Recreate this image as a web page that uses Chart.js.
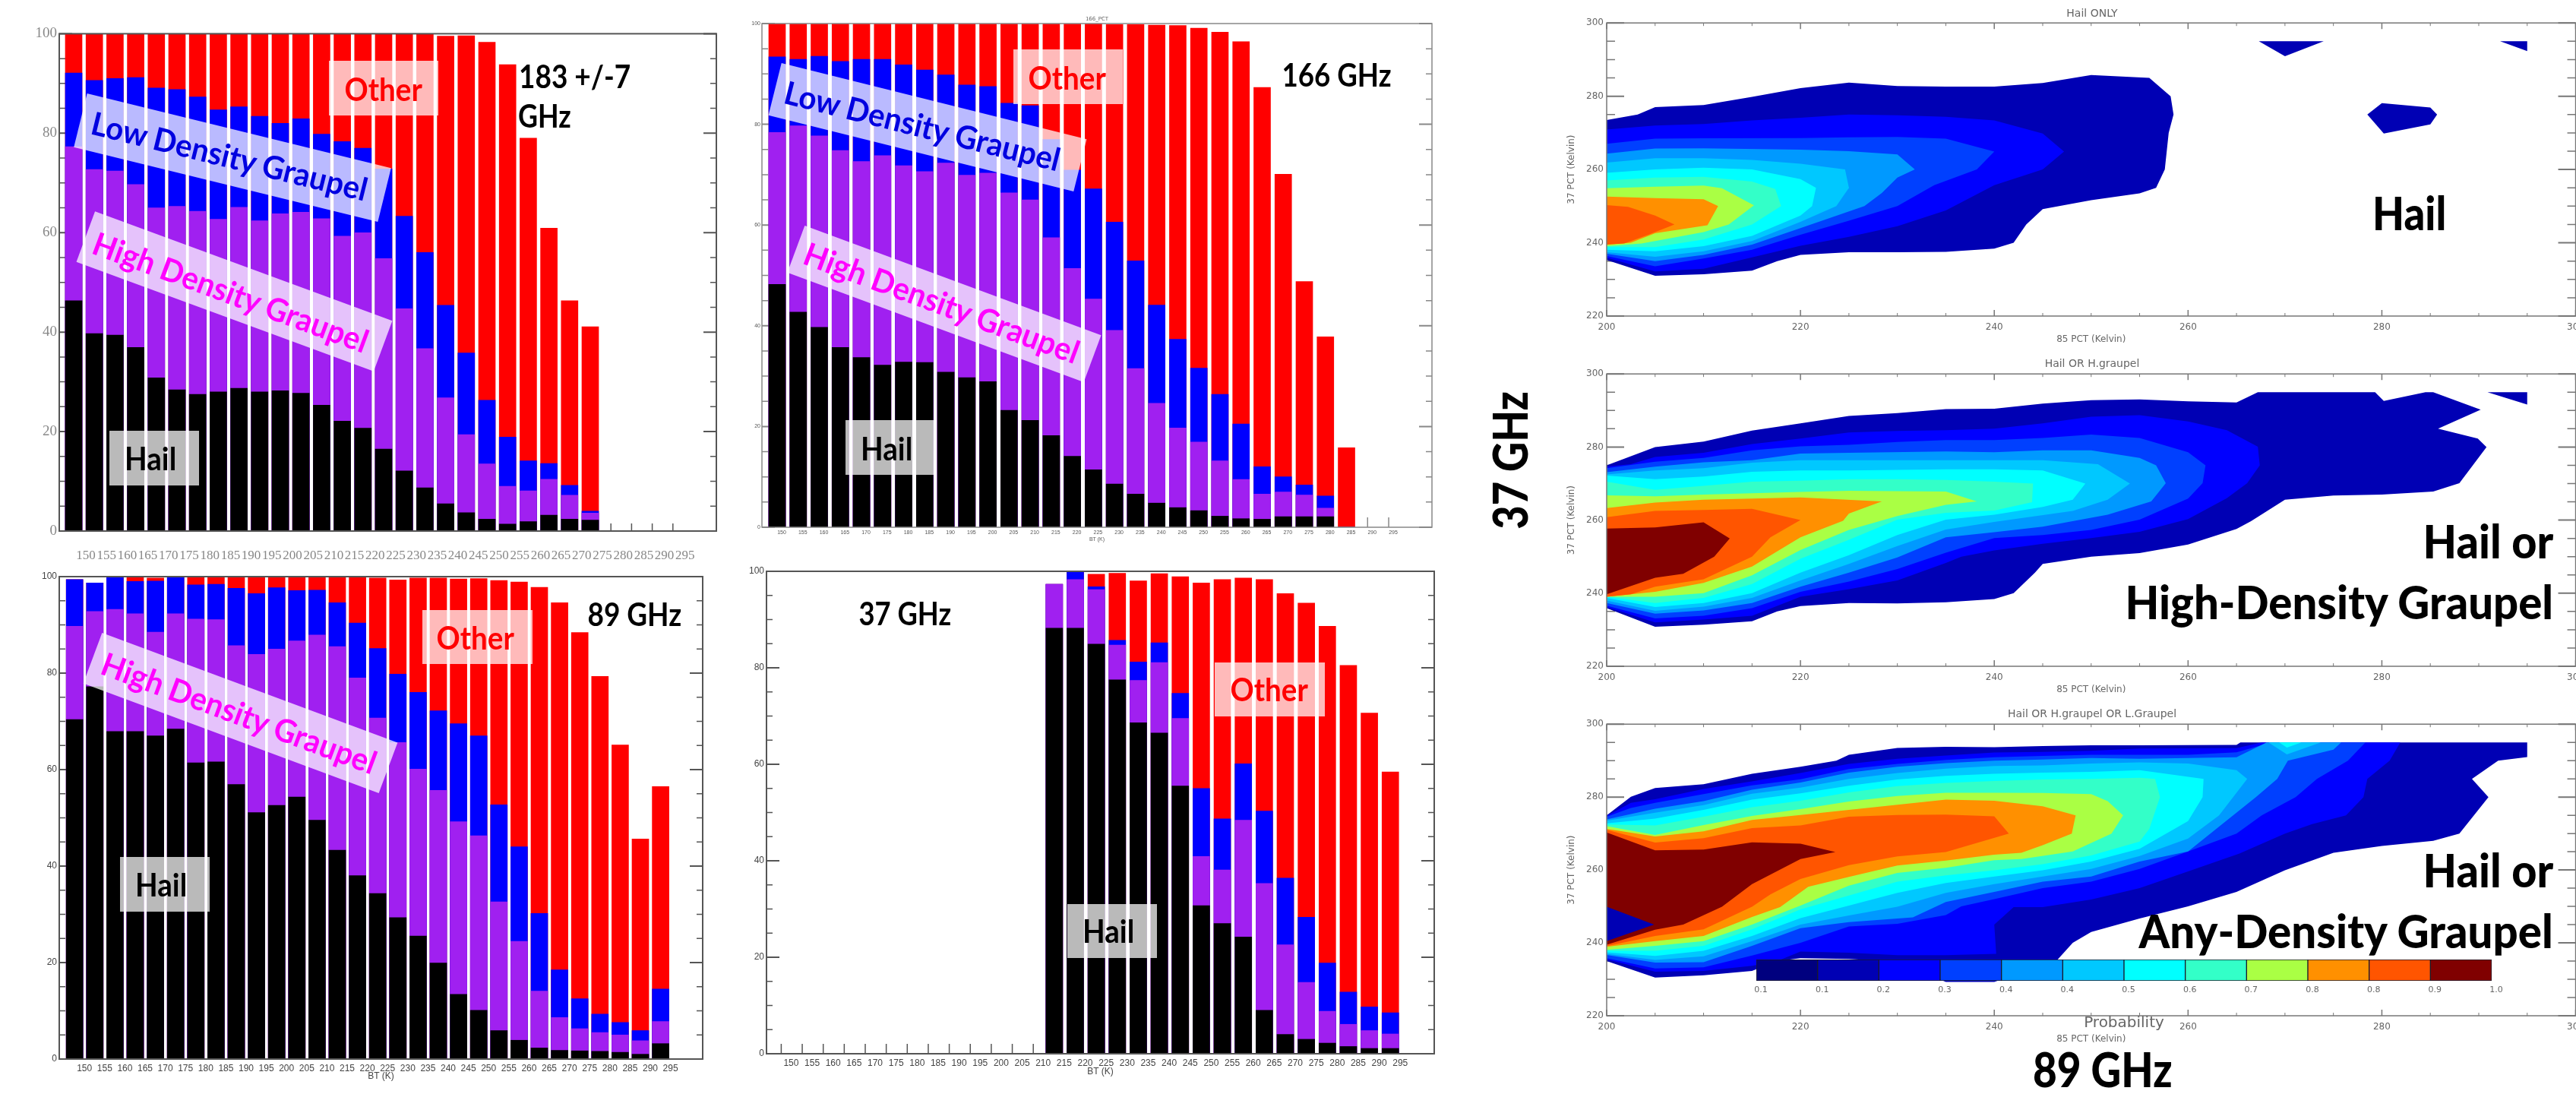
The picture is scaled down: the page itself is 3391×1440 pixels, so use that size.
<!DOCTYPE html>
<html>
<head>
<meta charset="utf-8">
<title>Hydrometeor probability vs brightness temperature</title>
<script src="https://cdn.jsdelivr.net/npm/chart.js@4"></script>
<style>
  html, body { margin: 0; padding: 0; background: #fff; width: 3391px; height: 1440px; overflow: hidden; }
  #page { position: relative; width: 3391px; height: 1440px; overflow: hidden; }
  canvas { position: absolute; }
  .box, .txt { position: absolute; transform-origin: center; }
  .txt { font-family: Lato, sans-serif; font-weight: 700; line-height: 1; white-space: nowrap; }
  .thin { position: absolute; font-family: "DejaVu Sans", sans-serif; color: #666; white-space: nowrap; transform: translate(-50%, -50%); }
</style>
</head>
<body>
<div id="page"></div>
<script>
// bins along the x axis of the four bar panels
const categories = [150, 155, 160, 165, 170, 175, 180, 185, 190, 195, 200, 205, 210, 215, 220, 225, 230, 235, 240, 245, 250, 255, 260, 265, 270, 275, 280, 285, 290, 295];

// bar series are the running totals: hail, then + high density, + low density, + other
const hail183 = [46.3, 39.7, 39.4, 36.9, 30.8, 28.4, 27.5, 28, 28.7, 28, 28.2, 27.7, 25.3, 22.1, 20.7, 16.5, 12.1, 8.7, 5.5, 3.7, 2.4, 1.4, 1.9, 3.2, 2.4, 2.2];
const high183 = [77.3, 72.7, 72.4, 69.7, 65, 65.3, 64.3, 62.7, 65.1, 62.4, 63.8, 64.1, 62.8, 59.3, 60, 54.8, 44.7, 36.7, 26.8, 19.4, 13.5, 9, 8.1, 10.4, 7.2, 3.6];
const low183 = [92.1, 90.6, 91, 91.2, 89.1, 88.8, 87.3, 84.7, 85.3, 83.4, 82, 82.9, 79.8, 78.3, 77, 72.8, 63.3, 56, 45.4, 35.8, 26.3, 18.9, 14.1, 13.6, 9.2, 4];
const total183 = [100, 100, 100, 100, 100, 100, 100, 100, 100, 100, 100, 100, 100, 100, 100, 100, 100, 100, 99.5, 99.6, 98.3, 93.8, 79, 60.9, 46.3, 41.1];

const hail166 = [48.2, 42.7, 39.7, 35.7, 33.7, 32.2, 32.8, 32.7, 30.8, 29.7, 28.9, 23.2, 21.2, 18.2, 14.1, 11.4, 8.6, 6.6, 4.8, 3.9, 3.3, 2.2, 1.7, 1.6, 2.1, 2.1, 2.1, 0];
const high166 = [78.4, 79.7, 77.7, 74.8, 72.6, 73.8, 71.8, 70.6, 72.3, 69.9, 70.3, 66.4, 65, 57.5, 51.4, 45.3, 39.1, 31.5, 24.6, 19.7, 16.9, 13.2, 9.5, 6.6, 7, 6.4, 3.8, 0];
const low166 = [93.4, 92.9, 93.5, 92.5, 92.9, 92.9, 91.8, 90.8, 89.8, 87.8, 87.5, 84.2, 83.7, 77, 70.9, 67.2, 60.6, 52.9, 44.1, 37.3, 31.6, 26.4, 20.5, 12, 10, 8.4, 6.2, 0];
const total166 = [100, 100, 100, 100, 100, 100, 100, 100, 100, 100, 100, 100, 100, 100, 100, 100, 99.8, 99.8, 99.7, 99.6, 99.1, 98.3, 96.4, 87.3, 70.1, 48.8, 37.8, 15.8];

const hail89 = [70.4, 77.2, 67.9, 67.9, 67, 68.4, 61.4, 61.6, 56.9, 51.1, 52.6, 54.3, 49.5, 43.3, 38, 34.3, 29.3, 25.5, 19.9, 13.4, 10.1, 5.9, 3.9, 2.3, 1.8, 1.7, 1.6, 1.4, 1, 3.2];
const high89 = [89.7, 92.8, 93.2, 92.3, 88.5, 92.3, 91.2, 91.1, 85.7, 83.9, 85, 86.7, 87.9, 85.5, 79, 70.7, 65.6, 60.1, 55.7, 49.2, 46.3, 32.6, 24.4, 14.1, 8.6, 6.3, 5.5, 5, 3.8, 7.8];
const low89 = [99.4, 98.7, 100, 99, 99.1, 100, 98.3, 98.4, 97.6, 96.5, 97.7, 97.1, 97.2, 94.6, 90.4, 85.1, 79.8, 76, 72.2, 69.5, 67, 52.7, 44, 30.2, 18.5, 12.5, 9.3, 7.6, 5.9, 14.5];
const total89 = [99.4, 98.7, 100, 100, 99.7, 100, 100, 100, 100, 100, 100, 100, 100, 100, 100, 99.7, 99.3, 99.7, 99.7, 99.5, 99.6, 99.2, 98.9, 97.8, 94.6, 88.4, 79.3, 65.1, 45.6, 56.5];

const hail37 = [null, null, null, null, null, null, null, null, null, null, null, null, null, 88.2, 88.2, 84.9, 77.5, 68.6, 66.5, 55.5, 30.7, 27, 24.2, 9, 4, 3, 2.2, 1.5, 1.1, 1.1];
const high37 = [null, null, null, null, null, null, null, null, null, null, null, null, null, 97.3, 98.3, 96.2, 84.7, 77.4, 81.1, 69.5, 40.9, 38.1, 48.4, 35.3, 22.6, 14.8, 8.8, 6.1, 4.8, 4.1];
const low37 = [null, null, null, null, null, null, null, null, null, null, null, null, null, 97.3, 100, 96.8, 85.7, 81.2, 85.2, 74.7, 55, 48.7, 60.1, 50.3, 36.4, 28.3, 18.8, 12.8, 9.7, 8.5];
const total37 = [null, null, null, null, null, null, null, null, null, null, null, null, null, 97.3, 100, 99.4, 99.6, 98, 99.5, 98.9, 97.6, 98.3, 98.6, 98.3, 95.4, 93.4, 88.6, 80.5, 70.6, 58.4];

// contour colours, one per probability band
const levelColors = ['#00007f', '#0000b4', '#0000ff', '#0040ff', '#0099ff', '#00c8ff', '#00ffff', '#33ffc8', '#aaff44', '#ff9000', '#ff5500', '#800000'];
const colorbarTicks = ['0.1', '0.1', '0.2', '0.3', '0.4', '0.4', '0.5', '0.6', '0.7', '0.8', '0.8', '0.9', '1.0'];

// contour outlines in (85 PCT, 37 PCT) kelvin: [colour band, outline]
const hailRings = [
  [1, [[200,273.5],[203.2,275],[205,277],[210,277.6],[215,279.8],[220,282.2],[225,283.7],[230,282.8],[235,282.6],[240,282.6],[245,283.6],[250,285.8],[256,285],[258.2,280],[258.5,275],[258,270],[257.6,260],[256.7,255],[255,253.5],[250,251.6],[245,249.2],[243.3,245],[242,240],[240,238.4],[235,237.5],[230,237.4],[225,237.4],[220,236.7],[217.6,235],[215,232.4],[210,231.4],[205,231],[200,235.3]]],
  [1, [[267.3,295],[274,295],[270,290.9]]],
  [1, [[292.2,295],[295,295],[295,292.3]]],
  [1, [[280,278.1],[285,276.9],[285.7,275],[285,272.3],[280.2,269.8],[278.5,275]]],
  [2, [[200,270.9],[205,272],[210,272.4],[215,273.4],[220,274.1],[225,275],[230,274.8],[235,274.4],[240,273.4],[245,269.8],[247.2,264.9],[245,260],[240,255.7],[235,248.8],[230,244.5],[225,241.6],[220,239.2],[215,236],[210,232.9],[205,232.2],[200,235.9]]],
  [3, [[200,267],[205,268.4],[210,268.5],[220,268.6],[225,268.8],[230,268.9],[235,268.4],[240,264.9],[238.2,260],[233.8,255.7],[230,250],[225,246],[220,242.2],[215,238.1],[210,235.7],[205,233.6],[200,236.4]]],
  [4, [[200,264.3],[205,265.7],[210,265.8],[220,265.4],[225,265],[230,264.1],[231.8,260],[230,257.8],[228.4,253.6],[226.6,250],[220,244],[215,239.5],[210,236.7],[205,235],[200,237]]],
  [5, [[200,261.9],[205,263.1],[210,263.1],[215,262.6],[220,261.6],[224.6,260],[225,255],[223.7,250],[220,245.7],[215,240.5],[210,237.7],[205,236.2],[200,237.4]]],
  [6, [[200,259.1],[205,260],[210,260.5],[215,260],[220,257.4],[221.6,255],[221.2,250],[220,247.4],[215,241.9],[210,239.1],[205,237.7],[200,238.1]]],
  [7, [[200,257],[205,257.8],[210,258],[215,256.7],[217.4,254.7],[218,250],[215,245],[210,240.9],[205,238.8],[200,238.8]]],
  [8, [[200,254.9],[205,255.3],[210,255.6],[211.9,254.9],[215.2,250.2],[212.6,245],[210,242.9],[205,240.5],[203.6,239.8],[200,239.1]]],
  [9, [[200,252.6],[205,252.2],[210,251.9],[211.5,250],[210.4,244.8],[205,242.6],[202.5,240],[200,239.5]]],
  [10, [[200,250.3],[202.2,249.8],[205,247.4],[207,245],[204.3,242.2],[201.8,239.8],[200,239.5]]]
];

const highRings = [
  [1, [[200,275],[205,280],[210,281.5],[215,284.5],[220,286.5],[225,288.5],[230,289.3],[235,290.4],[240,290.5],[245,291.9],[250,292.8],[255,293],[260,292.5],[265,292.2],[267.2,295],[279.3,295],[280.2,292.6],[284.5,295],[285.3,295],[290.2,290.2],[285.8,285],[289.9,282.3],[290.8,280],[288,270.1],[285.3,267.8],[280,267],[275,266.7],[270,265.6],[266.5,259.7],[265,257.6],[260,253.3],[255,251],[250,250],[245,248],[244.2,245.6],[242,240],[240,238.4],[235,237.5],[230,237.2],[225,237.3],[220,236.5],[217.6,235],[215,232.3],[210,231.4],[205,230.8],[200,235.9]]],
  [1, [[290.9,295],[295,295],[295,291.6]]],
  [2, [[200,274.6],[202.5,275.3],[205,277.3],[210,278.4],[215,280.8],[220,282.3],[225,284],[230,284.4],[235,284.6],[240,285],[245,286.5],[250,288.3],[255,288.7],[260,287],[264,284.6],[267.2,280.1],[267.4,275],[266.1,270.1],[264,266],[260,260.3],[255,256.8],[250,255.1],[245,253.5],[240,251.7],[236.6,250],[235,248.3],[230,243.5],[225,241.1],[220,239],[215,233.8],[210,232.8],[205,232],[200,236.2]]],
  [3, [[200,274.2],[205,276],[210,277],[215,279.1],[220,280.2],[225,280.6],[230,281.4],[235,281.9],[240,281.9],[245,282.5],[250,283.4],[255,282.5],[260,278.6],[261.8,275],[261.5,270.1],[260,265.9],[255,260.1],[250,257.3],[245,255.9],[240,255.1],[235,251.1],[230,246.6],[225,243.2],[220,240.4],[215,235.9],[210,233.8],[205,233.1],[200,236.6]]],
  [4, [[200,273.1],[205,274.6],[210,275.8],[215,276.4],[220,278.2],[225,278.4],[235,278.8],[240,278.6],[245,279.1],[250,279.1],[255,277],[256.7,275],[257.7,270.1],[256.2,265.1],[251.7,261.5],[245,258.2],[240,256.7],[235,255.3],[230,249.8],[225,245.6],[220,241.8],[215,237.3],[210,235.3],[205,234.4],[200,237.3]]],
  [5, [[200,272.5],[205,273.6],[210,274.2],[215,275.7],[220,276.4],[225,276.4],[230,276.4],[235,276.4],[240,276.4],[245,276.4],[250.7,275.3],[254,270],[251.7,265.6],[248.1,262.5],[240,259.5],[235,257.4],[230,252.9],[225,248],[220,243.5],[215,238.7],[210,236.3],[205,235.2],[200,238]]],
  [6, [[200,272.2],[205,271.2],[210,271.9],[215,273.2],[220,273.6],[225,273.6],[235,273.9],[240,273.9],[245,273.6],[249.4,270],[248.1,265.6],[245,263.6],[240,261.5],[235,260.1],[230,255.9],[225,250.4],[220,245.6],[215,240],[210,237.3],[205,236.2],[200,238.7]]],
  [7, [[200,270.5],[205,268.3],[210,269.4],[215,270.5],[220,270.8],[225,271.2],[230,271.2],[235,271],[240,270.5],[244,270],[243.9,264.9],[240,262.6],[235,262],[230,260.1],[225,254.6],[220,249.4],[215,242.5],[210,238.7],[205,237.3],[200,239]]],
  [8, [[200,266.8],[205,266.5],[210,267],[220,267.7],[225,268],[235,267.8],[238.2,265.1],[235,264.2],[230,261.1],[225,257.3],[220,251.8],[215,244.9],[210,240],[205,239],[200,239]]],
  [9, [[200,263.3],[205,264.8],[210,265.6],[220,266.2],[228.4,265.1],[225,261.8],[224.4,259.8],[220,255.3],[215,247.3],[210,242.8],[205,240.4],[200,239]]],
  [10, [[200,260.8],[205,262.5],[210,262.8],[215,263.1],[220,260],[216.9,255.3],[215,250],[210,243.8],[205,241.8],[202.5,239.7],[200,239]]],
  [11, [[200,257.7],[205,258],[210,259.4],[212.7,255],[211.1,250],[207.9,245.3],[205,244.2],[200,239.7]]]
];

const anyRings = [
  [1, [[200,275],[202.5,280.1],[205,282.5],[210,283.5],[215,286.4],[220,288.3],[223.7,290],[225,291.6],[230,293.5],[235,293.8],[240,293.7],[245,294],[250,294.2],[255,294.2],[265,294.3],[265.4,295],[295,295],[295,291],[292,290],[289.3,285],[291,280],[288,270],[285.3,268],[280,266.6],[275,264.7],[270,259.9],[265,254],[260,250],[255,246.7],[250,243],[248.1,240],[246.4,235],[240,229.3],[235,229.3],[230,234.8],[225,235.6],[220,235.8],[217.6,235],[215,232.3],[210,231.1],[205,230.5],[200,235]]],
  [2, [[200,274.8],[202.5,278.4],[205,279.4],[210,282.2],[215,284.3],[220,286.6],[225,289.1],[230,290.5],[235,291.4],[240,292.2],[245,292.4],[250,292.7],[255,293.3],[265,293.4],[267.6,295],[281.9,295],[280.8,290],[278.5,285],[278.1,280],[276.3,275],[272.8,272.6],[270,270],[265.3,264.5],[260,259.6],[255,255],[250,251.9],[245,249.8],[242,249.8],[240,245],[240.2,237],[235,236.6],[230,236.6],[225,237.3],[220,237.6],[217.6,235],[215,233.7],[210,232.3],[205,232.1],[200,235.5]]],
  [3, [[200,274.6],[202.5,277],[205,278.4],[210,280.8],[215,283.2],[220,284.9],[225,287.7],[230,289.1],[235,290.2],[240,290.9],[245,291.3],[250,291.6],[255,291.6],[260,291.6],[265,292.3],[268.6,295],[278.3,295],[276.5,290],[273.3,285],[271.1,280],[267.6,275],[265,270],[260,265.1],[255,260.3],[250,256.8],[245,255],[240,252],[236.6,250],[235,247.6],[230,245.2],[225,244.5],[220,240],[215,236.5],[210,233.3],[205,233],[200,235.8]]],
  [4, [[200,273.9],[205,276.8],[210,278.9],[215,282],[220,284],[225,286.7],[230,288.3],[235,289.3],[240,290],[245,290.3],[250,290.7],[255,290.5],[260,290.7],[265,290.9],[268.1,295],[275.8,295],[275,293],[270.3,290],[269.2,285],[267,280],[262.3,270],[260,265.1],[255,262.3],[250,258.2],[245,256.8],[240,254],[235,251.2],[231.6,247],[225,245.7],[220,244],[215,239.2],[210,234.7],[205,234.6],[200,236.7]]],
  [5, [[268.3,295],[273.7,295],[270.2,291.7]]],
  [6, [[269.4,295],[271.7,295],[270.2,293.6]]],
  [5, [[200,273.5],[205,275.7],[210,277.8],[215,280.9],[220,282.6],[225,285],[230,286.6],[235,287.8],[240,288.5],[245,288.7],[250,289.2],[255,289.5],[260,289.2],[265,287.4],[266.1,285],[263.2,275],[260,268.6],[255,263.8],[250,260.3],[245,258.2],[240,256.1],[235,253.7],[230,249.9],[225,247.5],[220,245],[215,240.5],[210,236.3],[205,235.3],[200,237]]],
  [6, [[200,272.8],[205,274.1],[210,276.5],[215,279.3],[220,281],[225,283.1],[230,284.8],[235,285.8],[240,286.4],[245,286.7],[250,286.9],[255,287.4],[261.6,285],[261.5,280],[260,273.4],[255,265.8],[250,262.3],[245,259.9],[240,258.2],[235,256.4],[230,253.7],[225,250.2],[220,246.8],[215,241.9],[210,237.8],[205,236.4],[200,237.4]]],
  [7, [[200,272.5],[205,272.2],[210,274.6],[215,277.2],[220,279],[225,281.3],[230,283],[235,283.9],[240,284.4],[245,284.8],[250,285],[255,285.3],[256.6,285],[257.1,280],[256,271.3],[255,267.8],[250,264],[245,261.6],[240,259.9],[235,258.5],[230,256.8],[225,253],[220,249.2],[215,243.7],[210,239.2],[205,237.8],[200,237.8]]],
  [8, [[200,272],[205,269.6],[210,272.3],[215,274.8],[220,276.7],[225,278.8],[230,280.3],[235,281.2],[240,281.2],[245,281.1],[250,280.8],[251.7,278.9],[253.3,275],[252.1,270],[248.1,265.1],[242.8,263],[240,262.7],[235,260.6],[230,259.2],[225,255.7],[220,250.2],[215,245],[210,240.5],[205,239.2],[200,238.1]]],
  [9, [[200,271.3],[205,269.2],[210,270.6],[215,273.7],[220,275.1],[225,276.5],[230,277.9],[235,279.3],[240,279],[245,277.5],[248.4,275],[248,270],[245,266.8],[242.8,264.7],[240,264.2],[235,262.6],[230,261.2],[225,258.1],[220.8,255.4],[217.9,249.8],[215,247.1],[210,241.9],[205,240.5],[200,238.9]]],
  [10, [[200,271],[205,267.5],[210,268.7],[215,271.5],[220,272.2],[225,274.6],[230,275.1],[235,275.2],[240,274.7],[241.5,270],[235,264.9],[230,263.7],[225,261.3],[220,257.5],[216.9,253.3],[215,249.9],[210,243.7],[205,241.9],[200,239.1]]],
  [11, [[200,270.3],[205,265.4],[210,265.6],[215,267.6],[220,267.2],[223.6,264.9],[220,263],[215,256.1],[211.9,249.9],[207.9,245],[205,243.6],[200,239.5]]],
  [1, [[200,249.9],[204.9,245],[200,240.5]]]
];

const page = document.getElementById('page');

// inward tick marks and the frame round the plot, IDL style
const frameTicks = {
  id: 'frameTicks',
  beforeDatasetsDraw(chart, args, o) {
    const { ctx, chartArea: a, scales: { x, y } } = chart;
    ctx.save();
    ctx.strokeStyle = o.color;
    y.ticks.forEach(t => {
      const py = y.getPixelForValue(t.value);
      const major = t.value % 20 === 0;
      const len = major ? o.yMajor : o.yMinor;
      ctx.lineWidth = major ? 2 : 1.5;
      ctx.beginPath();
      ctx.moveTo(a.left, py); ctx.lineTo(a.left + len, py);
      ctx.moveTo(a.right, py); ctx.lineTo(a.right - len, py);
      ctx.stroke();
    });
    x.ticks.forEach(t => {
      const px = x.getPixelForValue(t.value);
      const major = o.xEvery ? t.value % o.xEvery === 0 : true;
      const len = major ? o.xMajor : o.xMinor;
      ctx.lineWidth = major ? 1.5 : 1;
      ctx.beginPath();
      ctx.moveTo(px, a.bottom); ctx.lineTo(px, a.bottom - len);
      if (o.xTop) { ctx.moveTo(px, a.top); ctx.lineTo(px, a.top + len); }
      ctx.stroke();
    });
    ctx.restore();
  },
  afterDatasetsDraw(chart, args, o) {
    const { ctx, chartArea: a } = chart;
    ctx.save();
    ctx.strokeStyle = o.color;
    ctx.lineWidth = o.frame;
    ctx.strokeRect(a.left, a.top, a.right - a.left, a.bottom - a.top);
    ctx.restore();
  }
};

function addCanvas(left, top, w, h) {
  const c = document.createElement('canvas');
  c.width = w; c.height = h;
  c.style.left = left + 'px'; c.style.top = top + 'px';
  c.style.width = w + 'px'; c.style.height = h + 'px';
  page.appendChild(c);
  return c.getContext('2d');
}

function barPanel(p) {
  const padL = 40, padT = 12, padR = 6;
  const ctx = addCanvas(p.L - padL, p.T - padT, padL + p.R - p.L + padR, padT + p.B - p.T + p.padB);
  return new Chart(ctx, {
    type: 'bar',
    plugins: [frameTicks],
    data: {
      labels: categories,
      datasets: [
        { label: 'Hail', data: p.hail, backgroundColor: '#000000' },
        { label: 'High Density Graupel', data: p.high, backgroundColor: '#a020f0' },
        { label: 'Low Density Graupel', data: p.low, backgroundColor: '#0000ff' },
        { label: 'Other', data: p.total, backgroundColor: '#ff0000' }
      ]
    },
    options: {
      responsive: false,
      animation: false,
      devicePixelRatio: 1,
      events: [],
      grouped: false,
      barThickness: 22,
      layout: { autoPadding: false, padding: { left: 0, top: padT, right: padR, bottom: 0 } },
      plugins: {
        legend: { display: false },
        tooltip: { enabled: false },
        frameTicks: { color: p.line, frame: p.frame, yMajor: 17, yMinor: 8, xMajor: p.xTick, xMinor: p.xTick, xEvery: 0, xTop: false }
      },
      scales: {
        x: {
          type: 'linear',
          offset: false,
          min: 150 - (p.first - p.L) / p.pitch * 5,
          max: 150 + (p.R - p.first) / p.pitch * 5,
          afterBuildTicks(axis) { axis.ticks = categories.map(v => ({ value: v })); },
          afterFit(axis) { axis.height = p.padB; },
          grid: { display: false, drawTicks: false },
          border: { display: false },
          title: p.xTitle ? { display: true, text: 'BT (K)', color: p.color, font: { family: p.family, size: p.titleSize }, padding: 0 } : { display: false },
          ticks: { autoSkip: false, maxRotation: 0, minRotation: 0, callback: v => v, color: p.color, font: { family: p.family, size: p.xSize }, padding: p.xPad, labelOffset: p.xOff }
        },
        y: {
          min: 0,
          max: 100,
          afterFit(axis) { axis.width = padL; },
          grid: { display: false, drawTicks: false },
          border: { display: false },
          ticks: {
            stepSize: 5, autoSkip: false, color: p.color, font: { family: p.family, size: p.ySize }, padding: p.yPad,
            callback: v => (v % 20 === 0 ? v : ''),
            labelOffset: c => (!c.tick ? 0 : c.tick.value === 100 ? p.edge : c.tick.value === 0 ? -p.edge : 0)
          }
        }
      }
    }
  });
}

function contourPanel(T, B, rings) {
  // padR leaves room for half of the last x label, which keeps the plot area at its full width
  const L = 2115, R = 3394, padL = 53, padT = 10, padB = 38, padR = 16;
  const ctx = addCanvas(L - padL, T - padT, padL + R - L + padR, padT + B - T + padB);
  const font = { family: 'DejaVu Sans', size: 12 };
  return new Chart(ctx, {
    type: 'line',
    plugins: [frameTicks],
    data: {
      datasets: rings.map((r, i) => ({
        data: r[1].map(q => ({ x: q[0], y: q[1] })),
        order: -i,
        fill: 'shape',
        backgroundColor: levelColors[r[0]],
        borderWidth: 0,
        pointRadius: 0,
        tension: 0
      }))
    },
    options: {
      responsive: false,
      animation: false,
      devicePixelRatio: 1,
      events: [],
      layout: { autoPadding: false, padding: { left: 0, top: padT, right: padR, bottom: 0 } },
      plugins: {
        legend: { display: false },
        tooltip: { enabled: false },
        frameTicks: { color: '#777', frame: 1.5, yMajor: 23, yMinor: 11, xMajor: 8, xMinor: 4, xEvery: 20, xTop: true }
      },
      scales: {
        x: {
          type: 'linear', min: 200, max: 300,
          afterFit(axis) { axis.height = padB; },
          grid: { display: false, drawTicks: false },
          border: { display: false },
          title: { display: true, text: '85 PCT (Kelvin)', color: '#666', font, padding: 0 },
          ticks: { stepSize: 5, autoSkip: false, maxRotation: 0, color: '#666', font, padding: 8, callback: v => (v % 20 === 0 ? v : '') }
        },
        y: {
          min: 220, max: 300,
          afterFit(axis) { axis.width = padL; },
          grid: { display: false, drawTicks: false },
          border: { display: false },
          title: { display: true, text: '37 PCT (Kelvin)', color: '#666', font, padding: 0 },
          ticks: {
            stepSize: 5, autoSkip: false, color: '#666', font, padding: 4,
            callback: v => (v % 20 === 0 ? v : ''),
            labelOffset: c => (!c.tick ? 0 : c.tick.value === 300 ? 5 : c.tick.value === 220 ? -4 : 0)
          }
        }
      }
    }
  });
}

function colorbar() {
  const L = 2312, R = 3280, T = 1263, B = 1291, padL = 20, padB = 22, padR = 20, padT = 2;
  const ctx = addCanvas(L - padL, T - padT, padL + R - L + padR, B - T + padT + padB);
  const w = (R - L) / levelColors.length;
  return new Chart(ctx, {
    type: 'bar',
    data: {
      datasets: [{
        data: levelColors.map((c, i) => ({ x: i + 0.5, y: 1 })),
        backgroundColor: levelColors,
        borderColor: '#1a1a2a',
        borderWidth: 1,
        borderSkipped: false,
        barThickness: w
      }]
    },
    options: {
      responsive: false,
      animation: false,
      devicePixelRatio: 1,
      events: [],
      layout: { autoPadding: false, padding: { left: padL, top: padT, right: padR, bottom: 0 } },
      plugins: { legend: { display: false }, tooltip: { enabled: false } },
      scales: {
        x: {
          type: 'linear', offset: false, min: 0, max: levelColors.length,
          afterFit(axis) { axis.height = padB; },
          grid: { display: false, drawTicks: false },
          border: { display: false },
          ticks: { stepSize: 1, autoSkip: false, maxRotation: 0, color: '#666', font: { family: 'DejaVu Sans', size: 11 }, padding: 6, labelOffset: 6, callback: v => colorbarTicks[v] }
        },
        y: { display: false, min: 0, max: 1 }
      }
    }
  });
}

barPanel({ L: 78, T: 42, R: 943, B: 699, padB: 44, first: 97, pitch: 27.2, hail: hail183, high: high183, low: low183, total: total183,
  family: 'Liberation Sans Narrow', xSize: 17, ySize: 19, color: '#888', line: '#555', frame: 2, xTick: 10, xPad: 22, xOff: 16, yPad: 3, edge: 8, xTitle: false });
barPanel({ L: 1003, T: 31, R: 1885, B: 694, padB: 20, first: 1023, pitch: 27.76, hail: hail166, high: high166, low: low166, total: total166,
  family: 'Liberation Sans', xSize: 7, ySize: 7, color: '#555', line: '#888', frame: 1.5, xTick: 13, xPad: 3, xOff: 6, yPad: 2, edge: 0, xTitle: true, titleSize: 7 });
barPanel({ L: 78, T: 759, R: 925, B: 1394, padB: 30, first: 98.2, pitch: 26.6, hail: hail89, high: high89, low: low89, total: total89,
  family: 'Liberation Sans', xSize: 12, ySize: 12, color: '#444', line: '#555', frame: 2, xTick: 6, xPad: 5, xOff: 13, yPad: 3, edge: 3, xTitle: true, titleSize: 12 });
barPanel({ L: 1009, T: 752, R: 1888, B: 1387, padB: 31, first: 1028.4, pitch: 27.65, hail: hail37, high: high37, low: low37, total: total37,
  family: 'Liberation Sans', xSize: 12, ySize: 12, color: '#444', line: '#555', frame: 2, xTick: 13, xPad: 5, xOff: 13, yPad: 3, edge: 3, xTitle: true, titleSize: 12 });

contourPanel(29, 416, hailRings);
contourPanel(491, 877, highRings);
contourPanel(952, 1337, anyRings);
colorbar();

// translucent annotation boxes: centre, size, rotation
const boxes = [
  [505, 116, 144, 72, 0], [306, 207, 412, 73, 13.8], [308, 383, 417, 71, 20.2], [203, 603, 118, 72, 0],
  [1406, 101, 144, 72, 0], [1221, 167, 414, 71, 14], [1243, 400, 416, 66, 20.3], [1171, 589, 116, 72, 0],
  [316, 938, 415, 71, 20.4], [628, 838, 145, 71, 0], [217, 1164, 118, 72, 0],
  [1671, 907, 145, 71, 0], [1464, 1225, 118, 71, 0]
];
boxes.forEach(b => {
  const d = document.createElement('div');
  d.className = 'box';
  d.style.cssText = `left:${b[0] - b[2] / 2}px;top:${b[1] - b[3] / 2}px;width:${b[2]}px;height:${b[3]}px;background:rgba(255,255,255,.73);transform:rotate(${b[4]}deg)`;
  page.appendChild(d);
});

// annotation text: text, centre x, centre y, size, target width, colour, rotation
const labels = [
  ['Other', 504, 117, 42, 102, '#ff0000', 0], ['Low Density Graupel', 302, 205, 42, 373, '#0000e0', 13.8], ['High Density Graupel', 304, 384, 42, 383, '#ff00ff', 20.2], ['Hail', 198, 603, 42, 68, '#000', 0],
  ['183 +/-7', 756, 100, 42, 147, '#000', 0], ['GHz', 717, 152, 42, 70, '#000', 0],
  ['Other', 1404, 102, 42, 102, '#ff0000', 0], ['Low Density Graupel', 1214, 165, 42, 373, '#0000e0', 14], ['High Density Graupel', 1240, 398, 42, 383, '#ff00ff', 20.3], ['Hail', 1167, 590, 42, 68, '#000', 0],
  ['166 GHz', 1759, 98, 42, 144, '#000', 0],
  ['High Density Graupel', 315, 938, 42, 383, '#ff00ff', 20.4], ['Other', 625, 839, 42, 102, '#ff0000', 0], ['Hail', 212, 1164, 42, 68, '#000', 0], ['89 GHz', 835, 808, 42, 124, '#000', 0],
  ['37 GHz', 1191, 807, 42, 122, '#000', 0], ['Other', 1670, 907, 42, 102, '#ff0000', 0], ['Hail', 1459, 1225, 42, 68, '#000', 0],
  ['Hail', 3171, 280, 60, 97, '#000', 0], ['Hail or', 3275, 712, 60, 172, '#000', 0], ['High-Density Graupel', 3079, 792, 60, 564, '#000', 0],
  ['Hail or', 3275, 1145, 60, 172, '#000', 0], ['Any-Density Graupel', 3088, 1225, 60, 545, '#000', 0],
  ['89 GHz', 2768, 1407, 62, 184, '#000', 0], ['37 GHz', 1987, 606, 62, 182, '#000', -90]
];
labels.forEach(l => {
  const d = document.createElement('div');
  d.className = 'txt';
  d.textContent = l[0];
  d.style.fontSize = l[3] + 'px';
  if (l[3] >= 60) d.style.fontWeight = 900; // the big captions are heavier in the picture
  d.style.color = l[5];
  page.appendChild(d);
  const sx = l[4] / d.offsetWidth; // squeeze to the width in the picture
  d.style.left = (l[1] - d.offsetWidth / 2) + 'px';
  d.style.top = (l[2] - d.offsetHeight / 2) + 'px';
  d.style.transform = `rotate(${l[6]}deg) scaleX(${sx})`;
});

// panel titles and the colour bar caption
const captions = [
  ['Hail ONLY', 2754, 17, 14], ['Hail OR H.graupel', 2754, 478, 14], ['Hail OR H.graupel OR L.Graupel', 2754, 939, 14],
  ['166_PCT', 1444, 25, 7], ['Probability', 2796, 1345, 20]
];
captions.forEach(c => {
  const d = document.createElement('div');
  d.className = 'thin';
  d.textContent = c[0];
  d.style.left = c[1] + 'px';
  d.style.top = c[2] + 'px';
  d.style.fontSize = c[3] + 'px';
  page.appendChild(d);
});
</script>
</body>
</html>
